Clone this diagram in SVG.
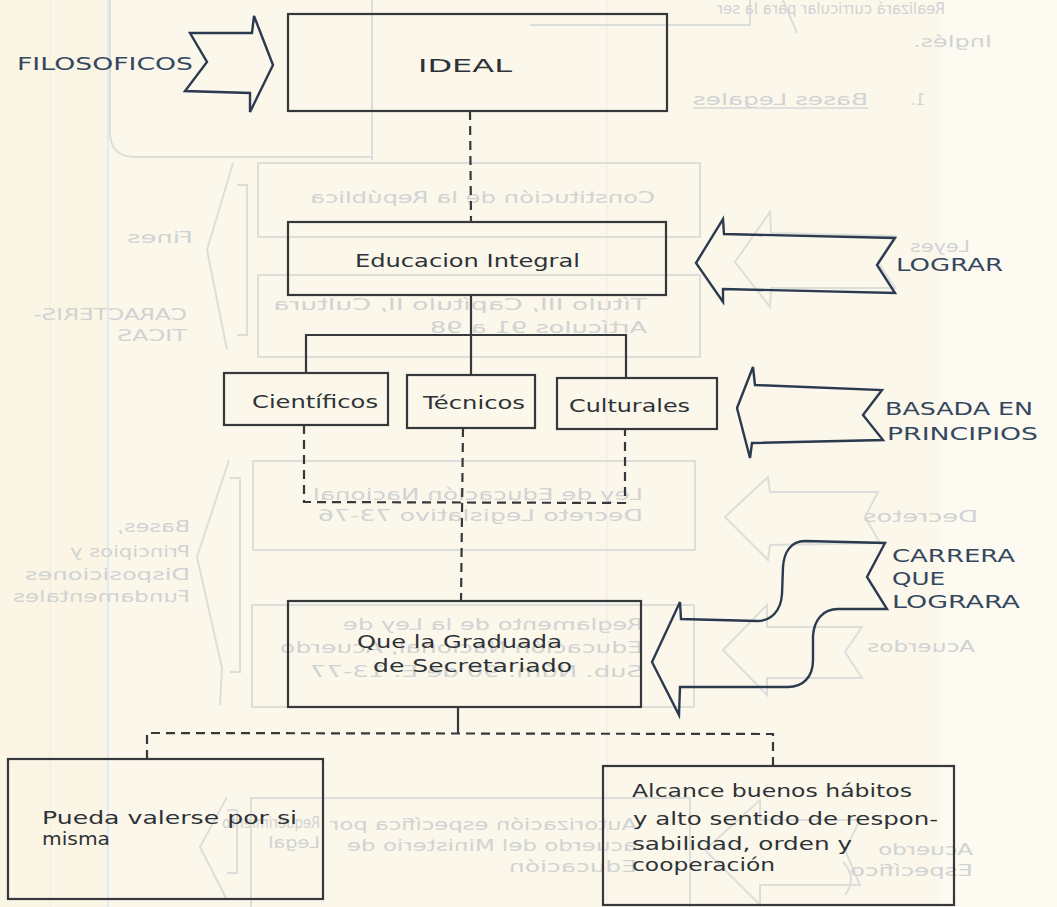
<svg xmlns="http://www.w3.org/2000/svg" width="1057" height="907" viewBox="0 0 1057 907">
  <style>
    .box { fill: none; stroke: #35393c; stroke-width: 2.2; }
    .lbl { font-family: "DejaVu Sans", "Liberation Sans", sans-serif; font-size: 17px; fill: #2d3236; }
    .arrow { fill: none; stroke: #2c3a50; stroke-width: 2.4; stroke-linejoin: miter; }
    .alab { font-family: "DejaVu Sans", "Liberation Sans", sans-serif; font-size: 18px; fill: #34475e; }
    .solid { fill: none; stroke: #35393c; stroke-width: 2.2; }
    .dash { fill: none; stroke: #35393c; stroke-width: 2.2; stroke-dasharray: 9 6; }
    .ghost { fill: none; stroke: #dcdedb; stroke-width: 2; }
    .gtext { font-family: "DejaVu Sans", "Liberation Sans", sans-serif; font-size: 15px; fill: #d0d3d3; }
  </style>

  <!-- paper -->
  <rect x="0" y="0" width="1057" height="907" fill="#fbf7ea"/>
  <rect x="0" y="0" width="108" height="907" fill="#fbf5e5"/>
  <rect x="940" y="0" width="117" height="907" fill="#fcfaf1"/>
  <line x1="50" y1="0" x2="50" y2="907" stroke="#f1ebe0" stroke-width="1"/>
  <line x1="108" y1="0" x2="108" y2="907" stroke="#e2ebf1" stroke-width="2"/>
  <line x1="607" y1="0" x2="607" y2="907" stroke="#f3e8ea" stroke-width="1"/>

  <!-- reverse side showing through the paper: outlines -->
  <g id="reverse-shapes">
    <path class="ghost" d="M110,0 V135 Q112,157 135,157 H372"/>
    <line class="ghost" x1="372" y1="0" x2="372" y2="160"/>
    <path class="ghost" d="M530,25 H750 V0"/>
    <line class="ghost" x1="783" y1="0" x2="797" y2="33"/>
    <rect class="ghost" x="258" y="163" width="442" height="74"/>
    <rect class="ghost" x="258" y="275" width="442" height="82"/>
    <rect class="ghost" x="253" y="461" width="442" height="89"/>
    <rect class="ghost" x="252" y="605" width="442" height="102"/>
    <path class="ghost" d="M251,910 V798 H690 V910"/>
    <polyline class="ghost" points="233,163 207,250 227,350"/>
    <polyline class="ghost" points="237,185 247,185 247,335 237,335"/>
    <polyline class="ghost" points="229,460 197,557 222,668 220,705"/>
    <polyline class="ghost" points="230,478 240,478 240,672 230,672"/>
    <polyline class="ghost" points="227,797 200,847 227,900"/>
    <polyline class="ghost" points="227,810 237,810 237,873 227,873"/>
    <polygon class="ghost" points="735,262 770,212 771,233 895,236 878,262 895,288 771,288 770,307"/>
    <polygon class="ghost" points="725,517 768,477 770,492 878,492 865,517 880,543 770,545 768,560"/>
    <polygon class="ghost" points="723,650 767,605 767,627 862,627 845,652 862,678 767,678 767,695"/>
    <polygon class="ghost" points="705,850 760,800 760,820 860,820 845,850 860,885 760,885 760,905"/>
    <path class="ghost" d="M843,862 Q858,878 845,895"/>
  </g>

  <!-- reverse side showing through the paper: text, mirrored -->
  <g id="reverse-text" transform="matrix(-1 0 0 1 1057 0)">
    <text class="gtext" x="112" y="14" font-size="13" textLength="228" lengthAdjust="spacingAndGlyphs">Realizará curricular para la ser</text>
    <text class="gtext" x="65" y="47" textLength="79" lengthAdjust="spacingAndGlyphs">Inglés.</text>
    <text class="gtext" x="132" y="105">1.</text>
    <text class="gtext" x="189" y="105" textLength="175" lengthAdjust="spacingAndGlyphs">Bases Legales</text>
    <line x1="189" y1="108" x2="364" y2="108" stroke="#d6d9d9" stroke-width="1.5"/>
    <text class="gtext" x="402" y="203" textLength="345" lengthAdjust="spacingAndGlyphs">Constitución de la República</text>
    <text class="gtext" x="410" y="310" textLength="374" lengthAdjust="spacingAndGlyphs">Título III, Capítulo II, Cultura</text>
    <text class="gtext" x="410" y="333" textLength="217" lengthAdjust="spacingAndGlyphs">Artículos 91 a 98</text>
    <text class="gtext" x="87" y="252" textLength="60" lengthAdjust="spacingAndGlyphs">Leyes</text>
    <text class="gtext" x="864" y="243" textLength="66" lengthAdjust="spacingAndGlyphs">Fines</text>
    <text class="gtext" x="870" y="320" textLength="154" lengthAdjust="spacingAndGlyphs">CARACTERIS-</text>
    <text class="gtext" x="870" y="341" textLength="70" lengthAdjust="spacingAndGlyphs">TICAS</text>
    <text class="gtext" x="414" y="500" textLength="330" lengthAdjust="spacingAndGlyphs">Ley de Educación Nacional</text>
    <text class="gtext" x="414" y="521" textLength="325" lengthAdjust="spacingAndGlyphs">Decreto Legislativo 73-76</text>
    <text class="gtext" x="79" y="522" textLength="115" lengthAdjust="spacingAndGlyphs">Decretos</text>
    <text class="gtext" x="867" y="532" textLength="73" lengthAdjust="spacingAndGlyphs">Bases,</text>
    <text class="gtext" x="867" y="557" textLength="120" lengthAdjust="spacingAndGlyphs">Principios y</text>
    <text class="gtext" x="867" y="580" textLength="165" lengthAdjust="spacingAndGlyphs">Disposiciones</text>
    <text class="gtext" x="867" y="602" textLength="177" lengthAdjust="spacingAndGlyphs">Fundamentales</text>
    <text class="gtext" x="414" y="630" textLength="300" lengthAdjust="spacingAndGlyphs">Reglamento de la Ley de</text>
    <text class="gtext" x="414" y="653" textLength="363" lengthAdjust="spacingAndGlyphs">Educación Nacional, Acuerdo</text>
    <text class="gtext" x="414" y="677" textLength="333" lengthAdjust="spacingAndGlyphs">Sub. Núm. 90 de E. 13-77</text>
    <text class="gtext" x="82" y="652" textLength="108" lengthAdjust="spacingAndGlyphs">Acuerdos</text>
    <text class="gtext" x="737" y="828" textLength="98" lengthAdjust="spacingAndGlyphs">Requerimiento</text>
    <text class="gtext" x="737" y="848" textLength="52" lengthAdjust="spacingAndGlyphs">Legal</text>
    <text class="gtext" x="420" y="830" textLength="307" lengthAdjust="spacingAndGlyphs">Autorización específica por</text>
    <text class="gtext" x="420" y="851" textLength="290" lengthAdjust="spacingAndGlyphs">acuerdo del Ministerio de</text>
    <text class="gtext" x="420" y="872" textLength="128" lengthAdjust="spacingAndGlyphs">Educación</text>
    <text class="gtext" x="84" y="855" textLength="95" lengthAdjust="spacingAndGlyphs">Acuerdo</text>
    <text class="gtext" x="84" y="876" textLength="123" lengthAdjust="spacingAndGlyphs">Específico</text>
  </g>

  <!-- connectors -->
  <g id="connectors">
    <line class="dash" x1="470" y1="111" x2="471" y2="222"/>
    <line class="solid" x1="471" y1="295" x2="471" y2="375"/>
    <polyline class="solid" points="306,373 306,335 626,335 626,378"/>
    <polyline class="dash" points="304,425 304,502 625,503 625,429"/>
    <line class="dash" x1="463" y1="428" x2="461" y2="601"/>
    <line class="solid" x1="458" y1="707" x2="458" y2="733"/>
    <polyline class="dash" points="147,759 147,733 773,734 773,766"/>
  </g>

  <!-- input arrows -->
  <g id="arrow-filosoficos">
    <polygon class="arrow" points="190,33 252,33 254,16 273,65 250,112 250,93 185,91 207,62"/>
    <text class="alab" x="17" y="70" textLength="176" lengthAdjust="spacingAndGlyphs">FILOSOFICOS</text>
  </g>
  <g id="arrow-lograr">
    <polygon class="arrow" points="696,263 723,219 724,234 895,238 877,265 895,293 723,289 723,302"/>
    <text class="alab" x="896" y="271" textLength="107" lengthAdjust="spacingAndGlyphs">LOGRAR</text>
  </g>
  <g id="arrow-basada">
    <polygon class="arrow" points="737,408 753,367 755,385 882,390 863,415 883,440 752,443 750,458"/>
    <text class="alab" x="885" y="415" textLength="148" lengthAdjust="spacingAndGlyphs">BASADA EN</text>
    <text class="alab" x="887" y="440" textLength="151" lengthAdjust="spacingAndGlyphs">PRINCIPIOS</text>
  </g>
  <g id="arrow-carrera">
    <path class="arrow" d="M652,662 L680,602 L681,619 L757,621 C772,621 781,610 782,594 L783,567 C784,552 791,541 805,541 L885,543 L867,577 L887,609 L838,609 C823,609 814,620 813,636 L813,660 C813,677 803,687 788,687 L680,687 L679,715 Z"/>
    <text class="alab" x="892" y="562" textLength="123" lengthAdjust="spacingAndGlyphs">CARRERA</text>
    <text class="alab" x="892" y="585" textLength="53" lengthAdjust="spacingAndGlyphs">QUE</text>
    <text class="alab" x="892" y="608" textLength="128" lengthAdjust="spacingAndGlyphs">LOGRARA</text>
  </g>

  <!-- nodes -->
  <g id="node-ideal">
    <rect class="box" x="288" y="14" width="379" height="97"/>
    <text class="lbl" x="418" y="72" textLength="94" lengthAdjust="spacingAndGlyphs">IDEAL</text>
  </g>
  <g id="node-educacion">
    <rect class="box" x="288" y="222" width="378" height="73"/>
    <text class="lbl" x="355" y="267" textLength="225" lengthAdjust="spacingAndGlyphs">Educacion Integral</text>
  </g>
  <g id="node-cientificos">
    <rect class="box" x="224" y="373" width="164" height="52"/>
    <text class="lbl" x="252" y="408" textLength="126" lengthAdjust="spacingAndGlyphs">Científicos</text>
  </g>
  <g id="node-tecnicos">
    <rect class="box" x="407" y="375" width="128" height="53"/>
    <text class="lbl" x="423" y="409" textLength="102" lengthAdjust="spacingAndGlyphs">Técnicos</text>
  </g>
  <g id="node-culturales">
    <rect class="box" x="557" y="378" width="160" height="51"/>
    <text class="lbl" x="569" y="412" textLength="121" lengthAdjust="spacingAndGlyphs">Culturales</text>
  </g>
  <g id="node-graduada">
    <rect class="box" x="288" y="601" width="353" height="106"/>
    <text class="lbl" x="357" y="648" textLength="205" lengthAdjust="spacingAndGlyphs">Que la Graduada</text>
    <text class="lbl" x="373" y="672" textLength="199" lengthAdjust="spacingAndGlyphs">de Secretariado</text>
  </g>
  <g id="node-valerse">
    <rect class="box" x="8" y="759" width="315" height="140"/>
    <text class="lbl" x="42" y="824" textLength="255" lengthAdjust="spacingAndGlyphs">Pueda valerse por si</text>
    <text class="lbl" x="42" y="845" textLength="68" lengthAdjust="spacingAndGlyphs">misma</text>
  </g>
  <g id="node-habitos">
    <rect class="box" x="603" y="766" width="351" height="139"/>
    <text class="lbl" x="632" y="797" textLength="280" lengthAdjust="spacingAndGlyphs">Alcance buenos hábitos</text>
    <text class="lbl" x="633" y="825" textLength="305" lengthAdjust="spacingAndGlyphs">y alto sentido de respon-</text>
    <text class="lbl" x="632" y="850" textLength="220" lengthAdjust="spacingAndGlyphs">sabilidad, orden y</text>
    <text class="lbl" x="632" y="871" textLength="143" lengthAdjust="spacingAndGlyphs">cooperación</text>
  </g>
</svg>
